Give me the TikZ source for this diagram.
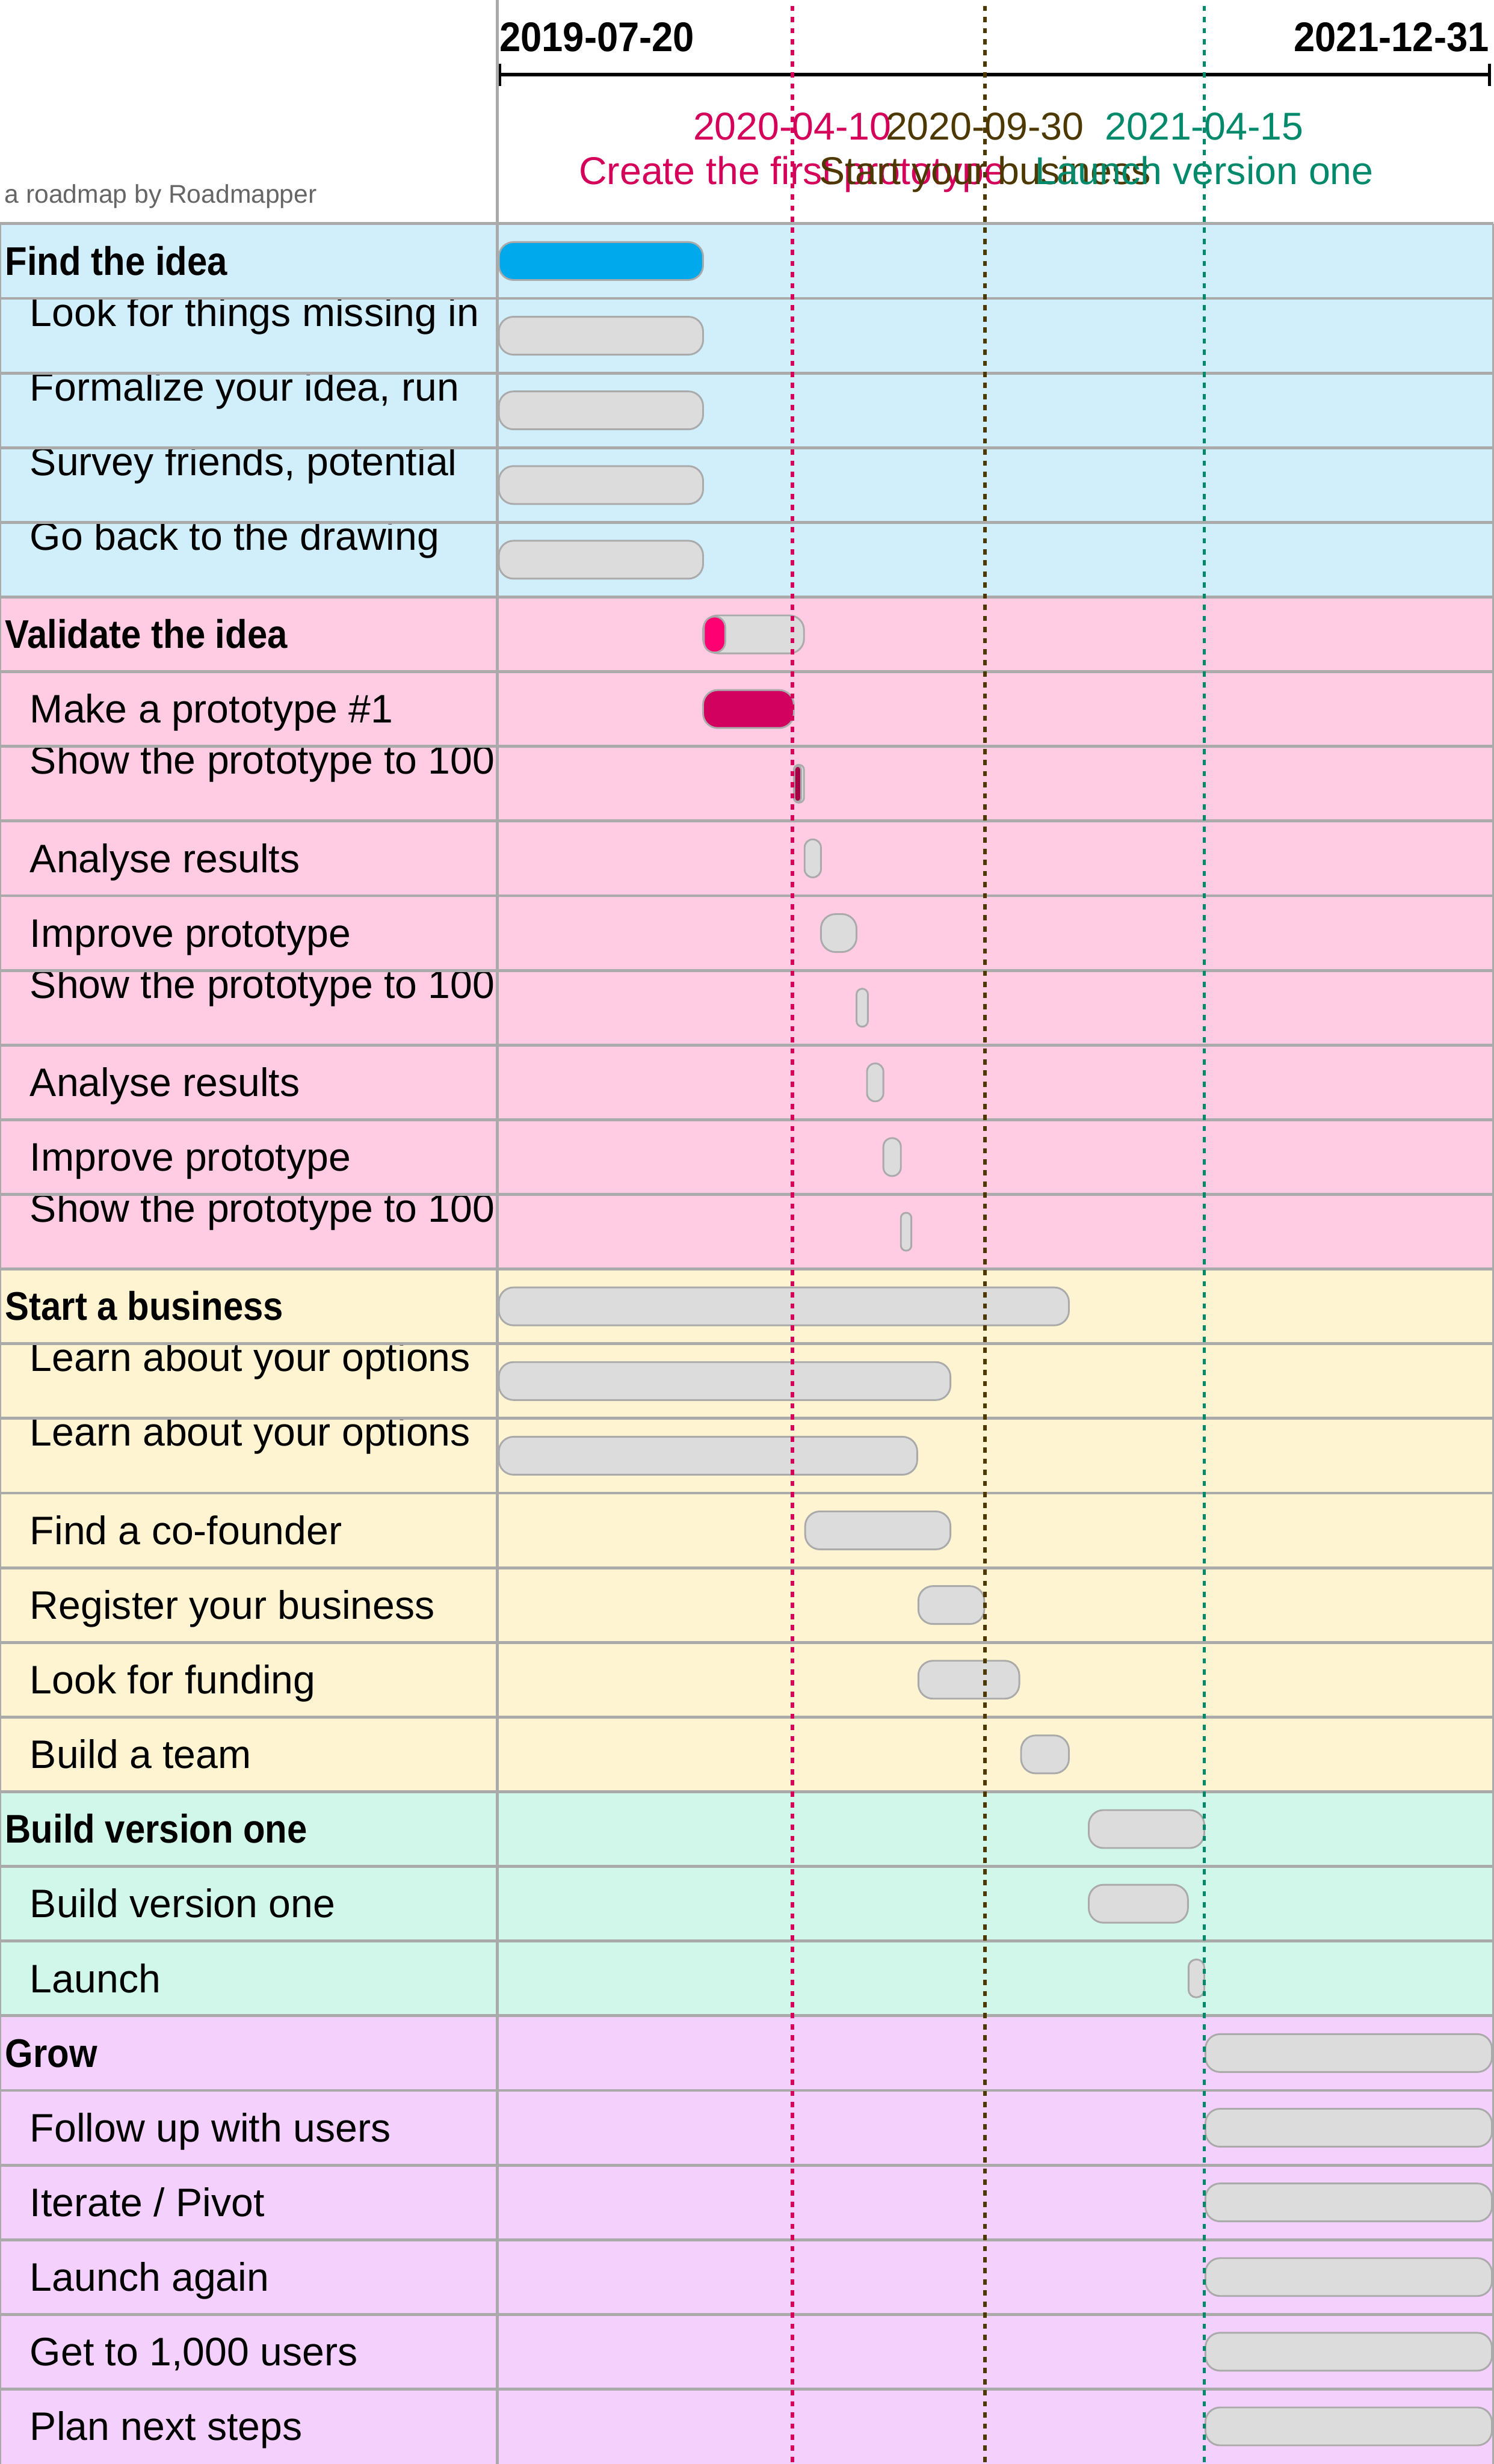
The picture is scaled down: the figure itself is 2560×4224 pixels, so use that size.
\documentclass[tikz,border=0pt]{standalone}
\usepackage{fontspec}
\setmainfont{Liberation Sans}
\newfontfamily\hdfont{Liberation Sans}[FakeStretch=0.9]
\newfontfamily\dtfont{Liberation Sans}[FakeStretch=0.92]
\definecolor{gridgray}{HTML}{AAAAAA}
\definecolor{barfill}{HTML}{DCDCDC}
\definecolor{bgblue}{HTML}{D1EEFB}
\definecolor{bgpink}{HTML}{FFCCE3}
\definecolor{bgcream}{HTML}{FFF4D1}
\definecolor{bgmint}{HTML}{D1F7EB}
\definecolor{bglav}{HTML}{F3D1FC}
\definecolor{barblue}{HTML}{00A8EC}
\definecolor{barpink}{HTML}{FF0073}
\definecolor{barcrim}{HTML}{D2005E}
\definecolor{bardark}{HTML}{A50046}
\definecolor{msred}{HTML}{D4005A}
\definecolor{msbrown}{HTML}{4D3800}
\definecolor{msgreen}{HTML}{00896A}
\definecolor{credit}{HTML}{666666}
% bar: x1, x2, row, fill
\newcommand\rmbar[4]{%
  \pgfmathsetmacro\rmya{383.5+(#3-1)*128+31.5}%
  \pgfmathsetmacro\rmyb{\rmya+65}%
  \pgfmathsetmacro\rmrr{min(25,(#2-#1)/2*0.98)*0.01}%
  \draw[barstyle, fill=#4, rounded corners=\rmrr cm] (#1,\rmya) rectangle (#2,\rmyb);%
}
% progress part: x1, x2, row, fill
\newcommand\rmprog[4]{%
  \pgfmathsetmacro\rmya{383.5+(#3-1)*128+33.5}%
  \pgfmathsetmacro\rmyb{\rmya+61.5}%
  \pgfmathsetmacro\rmrr{min(25,(#2-#1)/2*0.98)*0.01}%
  \draw[barstyle, fill=#4, rounded corners=\rmrr cm] (#1,\rmya) rectangle (#2,\rmyb);%
}
\begin{document}
\begin{tikzpicture}[x=0.01cm, y=-0.01cm,
  txt/.style={inner sep=0pt, outer sep=0pt},
  hdlabel/.style={txt, anchor=base west, font=\hdfont\bfseries\fontsize{19.5pt}{23pt}\selectfont},
  tasklabel/.style={txt, anchor=base west, font=\fontsize{19.4pt}{23pt}\selectfont},
  mslabel/.style={txt, anchor=base, font=\fontsize{18.9pt}{22pt}\selectfont},
  datelabel/.style={txt, font=\dtfont\bfseries\fontsize{20.2pt}{24pt}\selectfont},
  gridline/.style={draw=gridgray, line width=0.05cm},
  barstyle/.style={draw=gridgray, line width=0.03cm},
  msline/.style={line width=0.06cm, dash pattern=on 0.09cm off 0.1cm},
]
\useasboundingbox (0,0) rectangle (2560,4224);
\fill[white] (0,0) rectangle (2560,4224);

% row backgrounds
\fill[bgblue]  (0,383.5)  rectangle (2560,1023.5);
\fill[bgpink]  (0,1023.5) rectangle (2560,2175.5);
\fill[bgcream] (0,2175.5) rectangle (2560,3071.5);
\fill[bgmint]  (0,3071.5) rectangle (2560,3455.5);
\fill[bglav]   (0,3455.5) rectangle (2560,4224);

% bars
\rmbar{855}{1205}{1}{barblue}
\rmbar{855}{1205}{2}{barfill}
\rmbar{855}{1205}{3}{barfill}
\rmbar{855}{1205}{4}{barfill}
\rmbar{855}{1205}{5}{barfill}
\rmbar{1205}{1378}{6}{barfill}
\rmprog{1206.5}{1243}{6}{barpink}
\rmbar{1205}{1360.5}{7}{barcrim}
\rmbar{1360.5}{1378}{8}{barfill}
\rmprog{1361.5}{1373}{8}{bardark}
\rmbar{1379}{1407}{9}{barfill}
\rmbar{1407}{1468}{10}{barfill}
\rmbar{1468}{1487.5}{11}{barfill}
\rmbar{1486}{1514}{12}{barfill}
\rmbar{1514}{1544}{13}{barfill}
\rmbar{1544}{1562}{14}{barfill}
\rmbar{855}{1832}{15}{barfill}
\rmbar{855}{1629}{16}{barfill}
\rmbar{855}{1572}{17}{barfill}
\rmbar{1380}{1629}{18}{barfill}
\rmbar{1574}{1687}{19}{barfill}
\rmbar{1574}{1747}{20}{barfill}
\rmbar{1750}{1832}{21}{barfill}
\rmbar{1866}{2064}{22}{barfill}
\rmbar{1866}{2036}{23}{barfill}
\rmbar{2037}{2064}{24}{barfill}
\rmbar{2066}{2557}{25}{barfill}
\rmbar{2066}{2557}{26}{barfill}
\rmbar{2066}{2557}{27}{barfill}
\rmbar{2066}{2557}{28}{barfill}
\rmbar{2066}{2557}{29}{barfill}
\rmbar{2066}{2557}{30}{barfill}

% row labels
\node[hdlabel]   (lab1)  at (9,471.5)    {Find the idea};
\node[tasklabel] (lab2)  at (51.5,559)   {Look for things missing in};
\node[tasklabel] (lab3)  at (51.5,687)   {Formalize your idea, run};
\node[tasklabel] (lab4)  at (51.5,815)   {Survey friends, potential};
\node[tasklabel] (lab5)  at (51.5,943)   {Go back to the drawing};
\node[hdlabel]   (lab6)  at (9,1111.5)   {Validate the idea};
\node[tasklabel] (lab7)  at (51.5,1239.5) {Make a prototype \#1};
\node[tasklabel] (lab8)  at (51.5,1327)  {Show the prototype to 100};
\node[tasklabel] (lab9)  at (51.5,1495.5) {Analyse results};
\node[tasklabel] (lab10) at (51.5,1623.5) {Improve prototype};
\node[tasklabel] (lab11) at (51.5,1711)  {Show the prototype to 100};
\node[tasklabel] (lab12) at (51.5,1879.5) {Analyse results};
\node[tasklabel] (lab13) at (51.5,2007.5) {Improve prototype};
\node[tasklabel] (lab14) at (51.5,2095)  {Show the prototype to 100};
\node[hdlabel]   (lab15) at (9,2263.5)   {Start a business};
\node[tasklabel] (lab16) at (51.5,2351)  {Learn about your options};
\node[tasklabel] (lab17) at (51.5,2479)  {Learn about your options};
\node[tasklabel] (lab18) at (51.5,2647.5) {Find a co-founder};
\node[tasklabel] (lab19) at (51.5,2775.5) {Register your business};
\node[tasklabel] (lab20) at (51.5,2903.5) {Look for funding};
\node[tasklabel] (lab21) at (51.5,3031.5) {Build a team};
\node[hdlabel]   (lab22) at (9,3159.5)   {Build version one};
\node[tasklabel] (lab23) at (51.5,3287.5) {Build version one};
\node[tasklabel] (lab24) at (51.5,3415.5) {Launch};
\node[hdlabel]   (lab25) at (9,3543.5)   {Grow};
\node[tasklabel] (lab26) at (51.5,3671.5) {Follow up with users};
\node[tasklabel] (lab27) at (51.5,3799.5) {Iterate / Pivot};
\node[tasklabel] (lab28) at (51.5,3927.5) {Launch again};
\node[tasklabel] (lab29) at (51.5,4055.5) {Get to 1,000 users};
\node[tasklabel] (lab30) at (51.5,4183.5) {Plan next steps};

% grid lines
\foreach \i in {0,...,29} {
  \draw[gridline] (0,{383.5+\i*128}) -- (2560,{383.5+\i*128});
}
\draw[gridline] (852.5,0) -- (852.5,4224);
\draw[gridline] (0,383.5) -- (0,4224);
\draw[gridline] (2560,383.5) -- (2560,4224);

% header
\node[txt, anchor=base west, text=credit, font=\fontsize{12.5pt}{15pt}\selectfont] (credit) at (8,348) {a roadmap by Roadmapper};
\node[datelabel, anchor=base west] (dstart) at (856,88) {2019-07-20};
\node[datelabel, anchor=base east] (dend) at (2552,88) {2021-12-31};
\coordinate (axl) at (857,128);
\coordinate (axr) at (2553,128);
\coordinate (axlt) at (857,109);
\coordinate (axlb) at (857,147);
\coordinate (axrt) at (2553,109);
\coordinate (axrb) at (2553,147);
\draw[line width=0.055cm] (axl) -- (axr);
\draw[line width=0.05cm] (axlt) -- (axlb);
\draw[line width=0.05cm] (axrt) -- (axrb);

% milestone labels
\node[mslabel, text=msred]   (m1d) at (1358,240) {2020-04-10};
\node[mslabel, text=msred]   (m1t) at (1358,316.5) {Create the first prototype};
\node[mslabel, text=msbrown] (m2d) at (1688,240) {2020-09-30};
\node[mslabel, text=msbrown] (m2t) at (1688,316.5) {Start your business};
\node[mslabel, text=msgreen] (m3d) at (2064,240) {2021-04-15};
\node[mslabel, text=msgreen] (m3t) at (2064,316.5) {Launch version one};

% milestone lines
\coordinate (ms1a) at (1358,10);  \coordinate (ms1b) at (1358,4224);
\coordinate (ms2a) at (1688,10);  \coordinate (ms2b) at (1688,4224);
\coordinate (ms3a) at (2064,10);  \coordinate (ms3b) at (2064,4224);
\draw[msline, msred]   (ms1a) -- (ms1b);
\draw[msline, msbrown] (ms2a) -- (ms2b);
\draw[msline, msgreen] (ms3a) -- (ms3b);
\end{tikzpicture}
\end{document}
